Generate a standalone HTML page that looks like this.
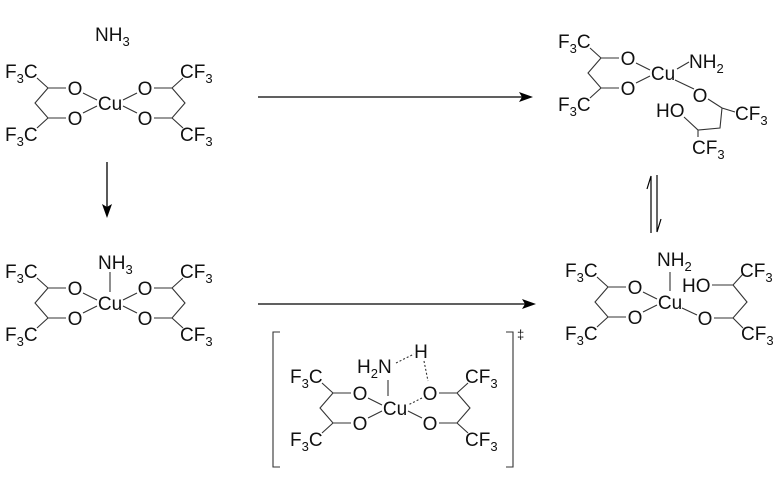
<!DOCTYPE html>
<html><head><meta charset="utf-8"><style>
html,body{margin:0;padding:0;background:#fff;}
svg{display:block;}
text{font-family:"Liberation Sans",Arial,sans-serif;font-size:19px;fill:#111;}
tspan.s{font-size:13px;}
.b{stroke:#333;stroke-width:1.1;fill:none;}
</style></head><body>
<svg width="782" height="477" viewBox="0 0 782 477" xmlns="http://www.w3.org/2000/svg">
<defs>
<g id="L">
  <text x="-105" y="-25">F<tspan class="s" dy="5">3</tspan><tspan dy="-5">C</tspan></text>
  <text x="-105" y="38">F<tspan class="s" dy="5">3</tspan><tspan dy="-5">C</tspan></text>
  <text x="-35" y="-8" text-anchor="middle">O</text>
  <text x="-35" y="22" text-anchor="middle">O</text>
  <path class="b" d="M-73,-25 L-62,-15 L-44,-15 M-62,-15 L-75,0 L-62,15 L-44,15 M-62,15 L-73,25 M-27,-10 L-13,-3 M-27,10 L-13,3"/>
</g>
<g id="R">
  <text x="70" y="-25">CF<tspan class="s" dy="5">3</tspan></text>
  <text x="70" y="38">CF<tspan class="s" dy="5">3</tspan></text>
  <text x="35" y="-8" text-anchor="middle">O</text>
  <text x="35" y="22" text-anchor="middle">O</text>
  <path class="b" d="M73,-25 L62,-15 L44,-15 M62,-15 L75,0 L62,15 L44,15 M62,15 L73,25 M27,10 L13,3"/>
</g>
</defs>

<!-- Top-left -->
<text x="95" y="41">NH<tspan class="s" dy="5">3</tspan></text>
<g transform="translate(110,103)">
  <use href="#L"/><use href="#R"/>
  <path class="b" d="M27,-10 L13,-3"/>
  <text x="0" y="7" text-anchor="middle">Cu</text>
</g>

<!-- Row 2 left -->
<g transform="translate(110,303)">
  <use href="#L"/><use href="#R"/>
  <path class="b" d="M27,-10 L13,-3 M0,-31 L0,-11"/>
  <text x="0" y="7" text-anchor="middle">Cu</text>
  <text x="-12" y="-34">NH<tspan class="s" dy="5">3</tspan></text>
</g>

<!-- Top-right -->
<g transform="translate(663,73)">
  <use href="#L"/>
  <text x="0" y="7" text-anchor="middle">Cu</text>
</g>
<text x="689" y="68">NH<tspan class="s" dy="5">2</tspan></text>
<path class="b" d="M677,69 L689,62 M675,80 L694,89"/>
<text x="700" y="102" text-anchor="middle">O</text>
<path class="b" d="M708,99 L722,108 L735,112 M722,108 L720,128 L698,130 L684,117 M698,130 L698,137"/>
<text x="656" y="117">HO</text>
<text x="735" y="120">CF<tspan class="s" dy="5">3</tspan></text>
<text x="692" y="154">CF<tspan class="s" dy="5">3</tspan></text>

<!-- Bottom-right -->
<g transform="translate(670,302)">
  <use href="#L"/>
  <text x="0" y="7" text-anchor="middle">Cu</text>
</g>
<text x="657" y="266">NH<tspan class="s" dy="5">2</tspan></text>
<path class="b" d="M670,272 L670,291 M682,308 L697,315"/>
<text x="682" y="292">HO</text>
<text x="705" y="325" text-anchor="middle">O</text>
<path class="b" d="M712,285 L733,285 L743,274 M733,285 L747,302 L733,318 L714,318 M733,318 L743,328"/>
<text x="740" y="277">CF<tspan class="s" dy="5">3</tspan></text>
<text x="741" y="340">CF<tspan class="s" dy="5">3</tspan></text>

<!-- Transition state -->
<g transform="translate(395,408)">
  <use href="#L"/><use href="#R"/>
  <path class="b" d="M27,-10 L13,-3" stroke-dasharray="2,2"/>
  <path class="b" d="M-7,-28 L-7,-12"/>
  <text x="0" y="7" text-anchor="middle">Cu</text>
</g>
<text x="357" y="373">H<tspan class="s" dy="5">2</tspan><tspan dy="-5">N</tspan></text>
<text x="421" y="358" text-anchor="middle">H</text>
<path class="b" d="M396,363 L414,354 M424,361 L428,381" stroke-dasharray="2,2"/>
<path class="b" stroke="#555" stroke-width="1.3" d="M280,332 L273,332 L273,467 L280,467 M506,332 L513,332 L513,467 L506,467"/>
<text x="517" y="339" style="font-size:13px">‡</text>

<!-- Arrows -->
<path stroke="#000" stroke-width="1.3" d="M258,97 L524,97 M258,304 L527,304 M107,162 L107,207"/>
<path fill="#000" d="M533,97 L519,92 L522,97 L519,102 Z M536,304 L522,299 L525,304 L522,309 Z M107,218 L102,204 L107,207 L112,204 Z"/>
<path stroke="#000" stroke-width="1.2" fill="none" d="M651,233 L651,176 L647,189 M657,175 L657,232 L661,219"/>
</svg>
</body></html>
